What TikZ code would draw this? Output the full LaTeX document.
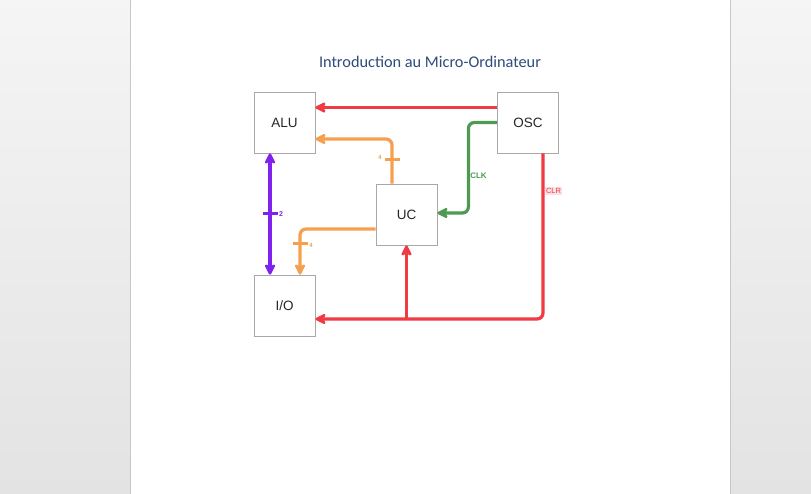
\documentclass[tikz,border=0pt]{standalone}
\usepackage{fontspec}
\setmainfont{Liberation Sans}
\newfontfamily\titlefont{Carlito}
\usetikzlibrary{arrows.meta,calc}
\definecolor{cred}{HTML}{F03A44}
\definecolor{cgreen}{HTML}{4E9A53}
\definecolor{corange}{HTML}{F6A04F}
\definecolor{cpurple}{HTML}{8022EE}
\definecolor{ctitle}{HTML}{2E4C7C}
\definecolor{cbox}{HTML}{A8A8A8}
\definecolor{cpink}{HTML}{FBE1E3}
\tikzset{
  box/.style={draw=cbox, line width=0.8pt, fill=white, minimum width=61pt, minimum height=61pt, inner sep=0pt, font=\fontsize{13.5}{15}\selectfont, text=black!85},
  wire/.style={line width=3.2pt, rounded corners=6pt, -{Stealth[length=13pt,width=13pt,inset=3.5pt,round]}},
  dwire/.style={line width=3.2pt, {Stealth[length=13pt,width=13pt,inset=3.5pt,round]}-{Stealth[length=13pt,width=13pt,inset=3.5pt,round]}},
  tick/.style={line width=2.6pt},
  small/.style={font=\bfseries\fontsize{8}{9}\selectfont, inner sep=1pt},
  tiny/.style={font=\bfseries\fontsize{6}{7}\selectfont, inner sep=1pt}
}
\begin{document}
\begin{tikzpicture}[x=1pt,y=-1pt]
\useasboundingbox (0,0) rectangle (811,494);
% background
\shade[top color=black!4, bottom color=black!11] (0,0) rectangle (811,494);
\fill[white] (130,0) rectangle (730,494);
\draw[black!22, line width=0.8pt] (130,0) -- (130,494);
\draw[black!22, line width=0.8pt] (730,0) -- (730,494);
% title
\node[font=\titlefont\fontsize{16.3}{18}\selectfont, text=ctitle] (title) at (430,62) {Introduction au Micro-Ordinateur};
% boxes
\node[box] (ALU) at (284.5,122.5) {ALU};
\node[box] (OSC) at (528,122.5) {OSC};
\node[box] (UC) at (406.5,214.5) {UC};
\node[box] (IO) at (284.5,305.5) {I/O};
% OSC -> ALU
\draw[wire, cred] ([yshift=15pt]OSC.west) -- ([yshift=15pt]ALU.east);
% CLK
\draw[wire, cgreen] (OSC.west) -| ([xshift=31pt,yshift=1.5pt]UC.east) -- ([yshift=1.5pt]UC.east);
\node[small, text=cgreen] (clk) at (478.5,176) {CLK};
% UC -> ALU (4)
\draw[wire, corange] ([xshift=-14.5pt]UC.north) |- ([yshift=-16.5pt]ALU.east);
\draw[tick, corange] ([xshift=-22pt,yshift=24pt]UC.north) -- ([xshift=-7pt,yshift=24pt]UC.north);
\node[tiny, text=corange] (n4a) at (380,157) {4};
% UC -> IO (4)
\draw[wire, corange] ([yshift=-14.5pt]UC.west) -| ([xshift=15.5pt]IO.north);
\draw[tick, corange] ([xshift=8pt,yshift=31pt]IO.north) -- ([xshift=23pt,yshift=31pt]IO.north);
\node[tiny, text=corange] (n4b) at (311,245) {4};
% ALU <-> IO (2)
\draw[dwire, cpurple] ([xshift=-14.5pt]ALU.south) -- ([xshift=-14.5pt]IO.north);
\draw[tick, cpurple] ([xshift=-22pt,yshift=-60pt]ALU.south) -- ([xshift=-7pt,yshift=-60pt]ALU.south);
\node[tiny, text=cpurple, font=\bfseries\fontsize{7}{8}\selectfont] (n2) at (281,214) {2};
% CLR
\draw[wire, cred] ([xshift=15pt]OSC.south) |- ([yshift=-13.5pt]IO.east);
\coordinate (J) at (UC.south |- 0,319);
\draw[wire, cred] (J) -- (UC.south);
\node[small, text=cred, fill=cpink, font=\fontsize{7.5}{8}\selectfont] (clr) at (553.5,191) {CLR};
\end{tikzpicture}
\end{document}
